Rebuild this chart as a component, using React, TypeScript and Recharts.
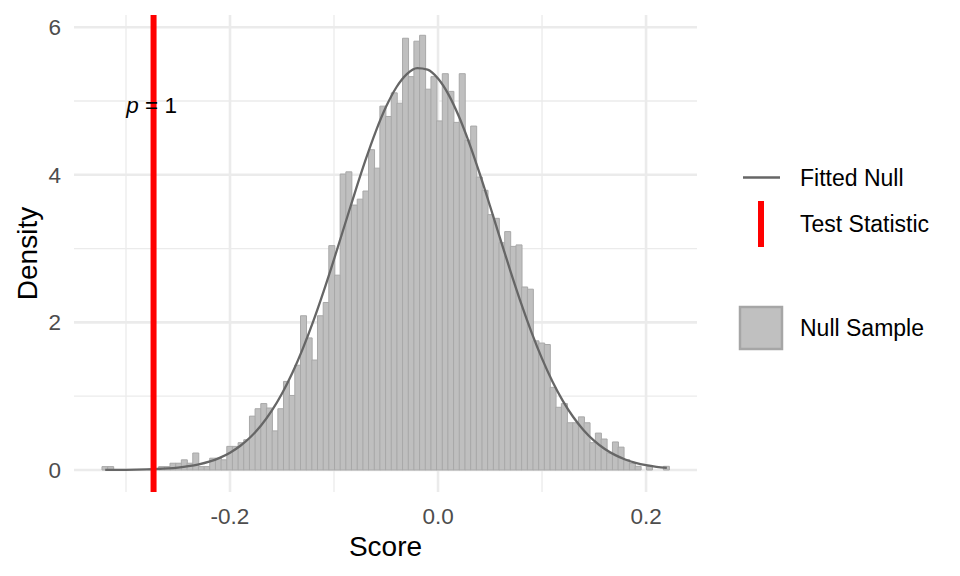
import React from 'react';
import {
  ComposedChart,
  Bar,
  Line,
  XAxis,
  YAxis,
  CartesianGrid,
  ReferenceLine,
  ReferenceDot,
} from 'recharts';

// Histogram bins (centres) of the null sample
const binCenters = [
  -0.3204, -0.3149, -0.3095, -0.304, -0.2986, -0.2931, -0.2877, -0.2822, -0.2768, -0.2713,
  -0.2659, -0.2604, -0.255, -0.2495, -0.2441, -0.2386, -0.2331, -0.2277, -0.2222, -0.2168,
  -0.2113, -0.2059, -0.2004, -0.195, -0.1895, -0.1841, -0.1786, -0.1732, -0.1677, -0.1623,
  -0.1568, -0.1513, -0.1459, -0.1404, -0.135, -0.1295, -0.1241, -0.1186, -0.1132, -0.1077,
  -0.1023, -0.0968, -0.0914, -0.0859, -0.0805, -0.075, -0.0695, -0.0641, -0.0586, -0.0532,
  -0.0477, -0.0423, -0.0368, -0.0314, -0.0259, -0.0205, -0.015, -0.0096, -0.0041, 0.0013,
  0.0068, 0.0122, 0.0177, 0.0231, 0.0286, 0.0341, 0.0395, 0.045, 0.0504, 0.0559,
  0.0613, 0.0668, 0.0722, 0.0777, 0.0831, 0.0886, 0.094, 0.0995, 0.1049, 0.1104,
  0.1158, 0.1213, 0.1268, 0.1322, 0.1377, 0.1431, 0.1486, 0.154, 0.1595, 0.1649,
  0.1704, 0.1758, 0.1813, 0.1867, 0.1922, 0.1976, 0.2031, 0.2085, 0.214, 0.2194,
];

// Histogram densities
const binDensity = [
  0.046, 0.046, 0, 0, 0, 0, 0, 0, 0, 0,
  0.046, 0.046, 0.092, 0.092, 0.138, 0.092, 0.23, 0.046, 0.046, 0.16,
  0.16, 0.138, 0.32, 0.32, 0.37, 0.41, 0.73, 0.83, 0.9, 0.84,
  0.53, 0.83, 1.2, 1.01, 1.42, 2.09, 1.79, 1.49, 2.09, 2.27,
  3.04, 2.64, 4.01, 4.04, 3.59, 3.67, 3.78, 4.34, 4.09, 4.93,
  4.79, 5.11, 4.97, 5.85, 5.33, 5.81, 5.89, 5.16, 5.33, 4.73,
  5.37, 5.13, 4.71, 5.37, 4.47, 4.66, 3.97, 3.79, 3.46, 3.41,
  3.08, 3.23, 3.03, 3.05, 2.48, 2.45, 1.75, 1.72, 1.7, 1.12,
  0.85, 0.9, 0.64, 0.64, 0.72, 0.64, 0.37, 0.5, 0.42, 0.23,
  0.38, 0.31, 0.14, 0.09, 0.05, 0, 0.05, 0, 0, 0.05,
];

// Fitted null density curve, read at these scores
const curveX = [
  -0.32, -0.31, -0.3, -0.29, -0.28, -0.27, -0.26, -0.25, -0.24, -0.23,
  -0.22, -0.21, -0.2, -0.19, -0.18, -0.17, -0.16, -0.15, -0.14, -0.13,
  -0.12, -0.11, -0.1, -0.09, -0.08, -0.07, -0.06, -0.05, -0.04, -0.03,
  -0.02, -0.01, 0, 0.01, 0.02, 0.03, 0.04, 0.05, 0.06, 0.07,
  0.08, 0.09, 0.1, 0.11, 0.12, 0.13, 0.14, 0.15, 0.16, 0.17,
  0.18, 0.19, 0.2, 0.21, 0.22,
];
const curveDensity = [
  0.001, 0.0017, 0.003, 0.005, 0.0083, 0.0134, 0.0214, 0.0335, 0.0514, 0.0773,
  0.114, 0.165, 0.235, 0.329, 0.451, 0.606, 0.8, 1.037, 1.318, 1.645,
  2.014, 2.421, 2.855, 3.306, 3.756, 4.187, 4.582, 4.921, 5.186, 5.364,
  5.445, 5.425, 5.304, 5.09, 4.793, 4.43, 4.018, 3.577, 3.124, 2.679,
  2.254, 1.862, 1.509, 1.2, 0.937, 0.718, 0.54, 0.398, 0.288, 0.205,
  0.143, 0.0978, 0.0657, 0.0433, 0.028,
];

const xTicks = [-0.2, 0, 0.2];
const xMinor = [-0.3, -0.1, 0.1];
const yTicks = [0, 2, 4, 6];
const yMinor = [1, 3, 5];
const testStatistic = -0.2735;
const pValueLabel = { y: 4.84, value: '1' };
const legendLabels = ['Fitted Null', 'Test Statistic', 'Null Sample'];

const histData = binCenters.map((x, i) => ({ x, density: binDensity[i] }));
const curveData = curveX.map((x, i) => ({ x, fit: curveDensity[i] }));

const FONT = '"Liberation Sans", Arial, Helvetica, sans-serif';
const X_DOMAIN: [number, number] = [-0.35, 0.249];
const Y_DOMAIN: [number, number] = [-0.298, 6.165];

const PLabel = (props: any) => {
  const { cx, cy } = props;
  if (cx == null || cy == null) return null;
  return (
    <text x={cx - 2} y={cy} textAnchor="middle" fontSize={22.5} fill="#000" fontFamily={FONT}>
      <tspan fontStyle="italic">p</tspan>
      <tspan> = {pValueLabel.value}</tspan>
    </text>
  );
};

const YTitle = (props: any) => {
  const vb = props.viewBox || { x: 0, y: 15, width: 74, height: 477 };
  const cx = vb.x + 37;
  const cy = vb.y + vb.height / 2;
  return (
    <text
      x={cx}
      y={cy}
      transform={`rotate(-90, ${cx}, ${cy})`}
      textAnchor="middle"
      fontSize={28}
      fill="#000"
      fontFamily={FONT}
    >
      Density
    </text>
  );
};

const XTitle = (props: any) => {
  const vb = props.viewBox || { x: 74, y: 492, width: 623, height: 84 };
  return (
    <text
      x={vb.x + vb.width / 2}
      y={vb.y + 64}
      textAnchor="middle"
      fontSize={28}
      fill="#000"
      fontFamily={FONT}
    >
      Score
    </text>
  );
};

export default function App() {
  return (
    <div style={{ position: 'absolute', left: 0, top: 0, width: 960, height: 576, background: '#fff', fontFamily: FONT }}>
      <ComposedChart
        width={960}
        height={576}
        data={histData}
        margin={{ top: 15, right: 263, bottom: 0, left: 0 }}
        barCategoryGap={0}
        barGap={0}
      >
        <CartesianGrid
          verticalValues={xMinor}
          horizontalValues={yMinor}
          stroke="#EBEBEB"
          strokeWidth={1.3}
        />
        <CartesianGrid
          verticalValues={xTicks}
          horizontalValues={yTicks}
          stroke="#EBEBEB"
          strokeWidth={2.6}
        />
        <XAxis
          dataKey="x"
          type="number"
          domain={X_DOMAIN}
          allowDataOverflow
          ticks={xTicks}
          tickFormatter={(v: number) => v.toFixed(1)}
          axisLine={false}
          tickLine={false}
          tickSize={0}
          tickMargin={16}
          height={84}
          tick={{ fill: '#4D4D4D', fontSize: 22.5, fontFamily: FONT }}
          label={<XTitle />}
        />
        <XAxis xAxisId="c" dataKey="x" type="number" domain={X_DOMAIN} allowDataOverflow hide />
        <YAxis
          type="number"
          domain={Y_DOMAIN}
          allowDataOverflow
          ticks={yTicks}
          axisLine={false}
          tickLine={false}
          tickSize={0}
          tickMargin={13}
          width={74}
          tick={{ fill: '#4D4D4D', fontSize: 22.5, fontFamily: FONT }}
          label={<YTitle />}
        />
        <Bar dataKey="density" fill="#BFBFBF" stroke="#A8A8A8" strokeWidth={1} isAnimationActive={false} />
        <Line
          xAxisId="c"
          data={curveData}
          dataKey="fit"
          type="monotone"
          stroke="#666666"
          strokeWidth={2.3}
          dot={false}
          isAnimationActive={false}
        />
        <ReferenceLine x={testStatistic} stroke="#FF0000" strokeWidth={6} />
        <ReferenceDot x={testStatistic} y={pValueLabel.y} r={0} shape={<PLabel />} />
      </ComposedChart>
      <svg
        width={960}
        height={576}
        style={{ position: 'absolute', left: 0, top: 0, pointerEvents: 'none' }}
      >
        <line x1={743} x2={780} y1={177.5} y2={177.5} stroke="#666666" strokeWidth={2.5} />
        <text x={800} y={178} dominantBaseline="central" fontSize={23} fill="#000" fontFamily={FONT}>
          {legendLabels[0]}
        </text>
        <line x1={761} x2={761} y1={201} y2={247} stroke="#FF0000" strokeWidth={6} />
        <text x={800} y={224} dominantBaseline="central" fontSize={23} fill="#000" fontFamily={FONT}>
          {legendLabels[1]}
        </text>
        <rect x={740} y={307} width={42} height={42} fill="#C0C0C0" stroke="#A6A6A6" strokeWidth={2.5} />
        <text x={800} y={328} dominantBaseline="central" fontSize={23} fill="#000" fontFamily={FONT}>
          {legendLabels[2]}
        </text>
      </svg>
    </div>
  );
}
